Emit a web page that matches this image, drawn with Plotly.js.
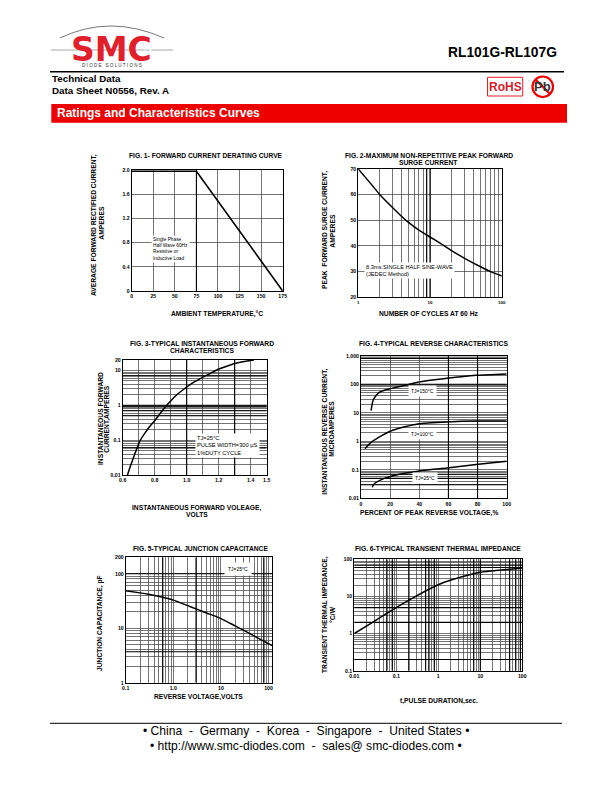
<!DOCTYPE html>
<html>
<head>
<meta charset="utf-8">
<script src="https://cdn.plot.ly/plotly-3.0.1.min.js"></script>
<style>html,body{margin:0;padding:0;background:#fff}#chart{width:612px;height:792px}</style>
</head>
<body>
<div id="chart"></div>
<script>
// ---------- data ----------
const fig1Temp = [0, 75, 175];
const fig1Current = [1.98, 1.98, 0];
const fig2Cycles = [1, 1.5, 2, 3, 4, 5, 7, 10, 14, 20, 30, 50, 70, 100];
const fig2Surge = [70, 64.2, 60, 55, 51.6, 49.2, 46.2, 43.5, 41, 38.2, 35.3, 32, 30, 28.3];
const fig3Volts = [0.63, 0.65, 0.67, 0.69, 0.71, 0.74, 0.77, 0.8, 0.84, 0.885, 0.93, 0.99, 1.04, 1.094, 1.14, 1.194, 1.25, 1.3, 1.36, 1.42];
const fig3Amps = [0.01, 0.019, 0.034, 0.06, 0.1, 0.162, 0.25, 0.363, 0.63, 1.12, 1.86, 3.09, 4.47, 6.17, 7.9, 10.7, 13.2, 15.8, 18.2, 20];
const fig4Pct150 = [6.9, 8.5, 11.9, 17.6, 32.5, 39, 59, 79, 100];
const fig4Cur150 = [11.9, 29, 49, 65, 97, 117, 161, 205, 230];
const fig4Pct100 = [2.7, 7.3, 14.2, 20, 30, 39, 59, 79, 100];
const fig4Cur100 = [0.55, 0.95, 1.58, 2.24, 3.2, 4.05, 4.76, 5.16, 5.16];
const fig4Pct25 = [7.8, 8.5, 14, 25.6, 39, 59, 79, 100];
const fig4Cur25 = [0.0244, 0.03, 0.045, 0.068, 0.089, 0.116, 0.152, 0.2];
const fig5Volts = [0.1, 0.2, 0.3, 0.6, 1, 2, 3, 5, 10, 20, 31, 60, 120];
const fig5Cap = [48.6, 44.5, 42, 37, 32.8, 26, 22.6, 19, 15, 11, 9, 6.6, 4.8];
const fig6Time = [0.01, 0.031, 0.08, 0.2, 1, 2.1, 10, 32, 100];
const fig6Imp = [1, 2.2, 4.3, 8, 20.7, 28, 44.6, 51.6, 58];

// ---------- tick labels ----------
const fig1XTicks = [0, 25, 50, 75, 100, 125, 150, 175];
const fig1YTicks = [0, 0.4, 0.8, 1.2, 1.6, 2.0];
const fig1YLabels = ['0', '0.4', '0.8', '1.2', '1.6', '2.0'];
const fig2XLabels = {1: '1', 10: '10', 100: '100'};
const fig2YTicks = [20, 30, 40, 50, 60, 70];
const fig3XTicks = [0.6, 0.7, 0.8, 0.9, 1.0, 1.1, 1.2, 1.3, 1.4, 1.5];
const fig3XLabels = ['0.6', '', '0.8', '', '1.0', '', '1.2', '', '1.4', '1.5'];
const fig3YLabels = {0.01: '0.01', 0.1: '0.1', 1: '1', 10: '10', 20: '20'};
const fig4XTicks = [0, 20, 40, 60, 80, 100];
const fig4YLabels = {0.01: '0.01', 0.1: '0.1', 1: '1', 10: '10', 100: '100', 1000: '1,000'};
const fig5XLabels = {0.1: '0.1', 1: '1.0', 10: '10', 100: '100'};
const fig5YLabels = {1: '1', 10: '10', 100: '100', 200: '200'};
const fig6XLabels = {0.01: '0.01', 0.1: '0.1', 1: '1', 10: '10', 100: '100'};
const fig6YLabels = {0.1: '0.1', 1: '1', 10: '10', 100: '100'};

// ---------- heavier printed grid lines ----------
const fig1HeavyX = [75];
const fig2HeavyX = [9, 10];
const fig3HeavyX = [1.0, 1.3];
const fig3HeavyY = [7, 1, 0.9, 0.7, 0.5, 0.06];
const fig4HeavyX = [60, 80];
const fig4HeavyY = [1000, 800, 100, 0.07, 0.05, 0.03];
const fig5HeavyX = [0.6, 3, 80];
const fig5HeavyY = [100, 3.7];
const fig6HeavyX = [0.06, 0.08, 0.2, 0.5, 0.6, 0.8, 7, 10, 50, 70, 90];
const fig6HeavyY = [70, 60, 5, 2, 0.2];

// ---------- helpers ----------
const FONT = 'Liberation Sans, Arial, sans-serif';
const W = 612, H = 792;
const px = x => x / W, py = y => 1 - y / H;

function logGrid(lo, hi) {
  const out = [];
  for (let e = Math.floor(Math.log10(lo) - 1e-9); e <= Math.ceil(Math.log10(hi)); e++) {
    for (let m = 1; m <= 9; m++) {
      const v = +(m + 'e' + e);
      if (v >= lo * 0.999 && v <= hi * 1.001) out.push(v);
    }
  }
  return out;
}

const annotations = [];
function note(text, x, y, o) {
  o = o || {};
  annotations.push({
    text, xref: 'paper', yref: 'paper', x: px(x), y: py(y), showarrow: false,
    xanchor: o.xa || 'center', yanchor: 'middle', align: o.align || 'center',
    textangle: o.angle || 0, bgcolor: o.bg || 'rgba(0,0,0,0)', borderpad: o.pad || 0,
    font: {family: o.family || FONT, size: o.size || 6.7, color: o.color || '#000',
           weight: o.bold === false ? 'normal' : 'bold'}
  });
}

const layout = {
  width: W, height: H, margin: {l: 0, r: 0, t: 0, b: 0}, showlegend: false,
  paper_bgcolor: '#fff', plot_bgcolor: '#fff', annotations, shapes: []
};
const traces = [];

function axis(n, letter, dom, spec) {
  const key = (letter === 'x' ? 'xaxis' : 'yaxis') + (n === 1 ? '' : n);
  layout[key] = {
    domain: dom, type: spec.type || 'linear', range: spec.range, autorange: false,
    anchor: (letter === 'x' ? 'y' : 'x') + (n === 1 ? '' : n),
    tickmode: 'array', tickvals: spec.vals, ticktext: spec.text, ticks: '', ticklen: 0,
    showgrid: true, gridcolor: '#3a3a3a', gridwidth: 0.7, zeroline: false,
    showline: true, mirror: true, linecolor: '#000', linewidth: 1, layer: 'below traces',
    tickangle: 0, tickfont: {family: FONT, size: spec.size || 5.2, color: '#000', weight: 'bold'}
  };
}

function panel(n, box, xs, ys) {
  axis(n, 'x', [px(box[0]), px(box[1])], xs);
  axis(n, 'y', [py(box[3]), py(box[2])], ys);
}

function line(n, x, y, width, color) {
  traces.push({
    type: 'scatter', mode: 'lines', x, y, xaxis: 'x' + (n === 1 ? '' : n), yaxis: 'y' + (n === 1 ? '' : n),
    line: {color: color || '#000', width: width || 1.5, shape: 'spline', smoothing: 0.6}, hoverinfo: 'skip'
  });
}
function straight(n, x, y, width) {
  traces.push({
    type: 'scatter', mode: 'lines', x, y, xaxis: 'x' + (n === 1 ? '' : n), yaxis: 'y' + (n === 1 ? '' : n),
    line: {color: '#000', width: width || 1.1}, hoverinfo: 'skip'
  });
}
function heavy(n, xv, yv, xr, yr) {
  (xv || []).forEach(v => straight(n, [v, v], yr));
  (yv || []).forEach(v => straight(n, xr, [v, v]));
}
const labelled = (vals, map) => vals.map(v => (map[v] !== undefined ? map[v] : ''));

// Fig 1
panel(1, [131.7, 282.7, 170, 291],
  {range: [0, 175], vals: fig1XTicks, text: fig1XTicks.map(String)},
  {range: [0, 2.0], vals: fig1YTicks, text: fig1YLabels});
heavy(1, fig1HeavyX, null, [0, 175], [0, 2.0]);
straight(1, fig1Temp, fig1Current, 1.6);

// Fig 2
const g2x = logGrid(1, 100);
panel(2, [358.3, 501.7, 169, 297.3],
  {type: 'log', range: [0, 2], vals: g2x, text: labelled(g2x, fig2XLabels), size: 4.4},
  {range: [20, 70], vals: fig2YTicks, text: fig2YTicks.map(String)});
heavy(2, fig2HeavyX, null, [1, 100], [20, 70]);
line(2, fig2Cycles, fig2Surge);

// Fig 3
const g3y = logGrid(0.01, 20);
panel(3, [122.7, 266.7, 360, 475],
  {range: [0.6, 1.5], vals: fig3XTicks, text: fig3XLabels},
  {type: 'log', range: [-2, Math.log10(20)], vals: g3y, text: labelled(g3y, fig3YLabels)});
heavy(3, fig3HeavyX, fig3HeavyY, [0.6, 1.5], [0.01, 20]);
line(3, fig3Volts, fig3Amps);

// Fig 4
const g4y = logGrid(0.01, 1000);
panel(4, [361, 506.7, 355.7, 498.3],
  {range: [0, 100], vals: fig4XTicks, text: fig4XTicks.map(String)},
  {type: 'log', range: [-2, 3], vals: g4y, text: labelled(g4y, fig4YLabels)});
heavy(4, fig4HeavyX, fig4HeavyY, [0, 100], [0.01, 1000]);
line(4, fig4Pct150, fig4Cur150);
line(4, fig4Pct100, fig4Cur100);
line(4, fig4Pct25, fig4Cur25);

// Fig 5
const g5x = logGrid(0.1, 120), g5y = logGrid(1, 200);
panel(5, [125.7, 272.3, 557.3, 682.7],
  {type: 'log', range: [-1, Math.log10(120)], vals: g5x, text: labelled(g5x, fig5XLabels)},
  {type: 'log', range: [0, Math.log10(200)], vals: g5y, text: labelled(g5y, fig5YLabels)});
heavy(5, fig5HeavyX, fig5HeavyY, [0.1, 120], [1, 200]);
line(5, fig5Volts, fig5Cap);

// Fig 6
const g6x = logGrid(0.01, 100), g6y = logGrid(0.1, 100);
panel(6, [354.3, 522.3, 559.3, 670.7],
  {type: 'log', range: [-2, 2], vals: g6x, text: labelled(g6x, fig6XLabels)},
  {type: 'log', range: [-1, 2], vals: g6y, text: labelled(g6y, fig6YLabels)});
heavy(6, fig6HeavyX, fig6HeavyY, [0.01, 100], [0.1, 100]);
line(6, fig6Time, fig6Imp);

// Figure titles
note('FIG. 1- FORWARD CURRENT DERATING CURVE', 206, 155);
note('FIG. 2-MAXIMUM NON-REPETITIVE PEAK FORWARD', 428.5, 155);
note('SURGE CURRENT', 428.5, 162);
note('FIG. 3-TYPICAL INSTANTANEOUS FORWARD', 201.7, 343.3);
note('CHARACTERISTICS', 201.7, 350);
note('FIG. 4-TYPICAL REVERSE CHARACTERISTICS', 433.5, 343.3);
note('FIG. 5-TYPICAL JUNCTION CAPACITANCE', 200, 548);
note('FIG. 6-TYPICAL TRANSIENT THERMAL IMPEDANCE', 437.7, 548.7);

// X axis titles
note('AMBIENT TEMPERATURE,\u00B0C', 216.5, 314);
note('NUMBER OF CYCLES AT 60 Hz', 428.3, 314);
note('INSTANTANEOUS FORWARD VOLEAGE,', 196.7, 508.3);
note('VOLTS', 196.7, 514.8);
note('PERCENT OF PEAK REVERSE VOLTAGE,%', 429.3, 513);
note('REVERSE VOLTAGE,VOLTS', 198.3, 697.3);
note('t,PULSE DURATION,sec.', 439, 700.7);

// Y axis titles
const vert = {angle: -90};
note('AVERAGE FORWARD RECTIFIED CURRENT,', 94, 225, vert);
note('AMPERES', 100.7, 223, vert);
note('PEAK  FORWARD SURGE CURRENT,', 325, 230, vert);
note('AMPERES', 331.7, 231, vert);
note('INSTANTANEOUS FORWARD', 100, 419, vert);
note('CURRENT,AMPERES', 106.7, 419, vert);
note('INSTANTANEOUS REVERSE CURRENT,', 325, 431.7, vert);
note('MICROAMPERES', 331.7, 429, vert);
note('JUNCTION CAPACITANCE, pF', 100, 623, vert);
note('TRANSIENT THERMAL IMPEDANCE,', 325, 615, vert);
note('\u00B0C/W', 331.7, 615, vert);

// Notes inside the panels
const inner = {size: 4.8, bold: false, bg: '#fff', pad: 1};
note('Single Phase<br>Half Wave 60Hz<br>Resistive or<br>Inductive Load', 150.5, 248.5, Object.assign({xa: 'left', align: 'left'}, inner));
note('8.3ms SINGLE HALF SINE-WAVE<br>(JEDEC Method)', 363.5, 271, Object.assign({}, inner, {xa: 'left', align: 'left', size: 5.7}));
note('TJ=25\u00B0C<br>PULSE WIDTH=300 \u03BCS<br>1%DUTY CYCLE', 195, 445, Object.assign({}, inner, {xa: 'left', align: 'left', size: 5.7}));
note('TJ=150\u00B0C', 422.5, 391, Object.assign({}, inner, {size: 5, pad: 2}));
note('TJ=100\u00B0C', 422.5, 433.5, Object.assign({}, inner, {size: 5, pad: 2}));
note('TJ=25\u00B0C', 424.5, 478.5, Object.assign({}, inner, {size: 5, pad: 2}));
note('TJ=25\u00B0C', 237.5, 568.5, Object.assign({}, inner, {size: 5, pad: 3}));

// Page header
const s = (type, x0, y0, x1, y1, o) => layout.shapes.push(Object.assign(
  {type, xref: 'paper', yref: 'paper', x0: px(x0), y0: py(y0), x1: px(x1), y1: py(y1), layer: 'above'}, o));
layout.shapes.push({type: 'path', xref: 'paper', yref: 'paper', layer: 'above',
  path: `M ${px(60)} ${py(38)} Q ${px(110)} ${py(14)} ${px(164)} ${py(38)}`, line: {color: '#555', width: 0.8}});
s('line', 51, 50, 173, 50, {line: {color: '#aaa', width: 1}});
note('SMC', 111.5, 49.5, {size: 33, color: '#e2202c', family: 'DejaVu Sans, sans-serif'});
note('D I O D E   S O L U T I O N S', 112, 65, {size: 4.6, bold: false, color: '#333'});
layout.shapes.push({type: 'path', xref: 'paper', yref: 'paper', layer: 'above',
  path: `M ${px(145)} ${py(46)} L ${px(145)} ${py(54)} L ${px(151)} ${py(50)} Z`, line: {color: '#fff', width: 0.8}});
s('line', 151, 46, 151, 54, {line: {color: '#fff', width: 0.8}});
note('RL101G-RL107G', 558, 52.3, {size: 13.8, xa: 'right'});
s('line', 50, 71.7, 564, 71.7, {line: {color: '#000', width: 1.6}});
note('Technical Data', 51, 78.5, {size: 9.8, xa: 'left'});
note('Data Sheet N0556, Rev. A', 51, 90, {size: 9.8, xa: 'left'});
s('rect', 487.5, 77.3, 522.7, 96, {line: {color: '#e8202a', width: 1}, fillcolor: '#fff'});
note('RoHS', 505, 86.7, {size: 12, color: '#d8202a'});
note('Pb', 542.7, 86.7, {size: 13, color: '#333'});
s('circle', 532.5, 76.5, 553, 97, {line: {color: '#ee0000', width: 2.2}, fillcolor: 'rgba(0,0,0,0)'});
s('line', 535.5, 79.5, 550, 94, {line: {color: '#ee0000', width: 2.2}});
s('rect', 51.3, 104, 567, 122.7, {line: {width: 0}, fillcolor: '#ee0000', layer: 'below'});
note('Ratings and Characteristics Curves', 56, 113, {size: 12, color: '#fff', xa: 'left'});

// Page footer
s('line', 50, 723.3, 562, 723.3, {line: {color: '#000', width: 1}});
const sp = '\u00A0\u00A0-\u00A0\u00A0';
note('\u2022 China' + sp + 'Germany' + sp + 'Korea' + sp + 'Singapore' + sp + 'United States \u2022', 305.5, 731, {size: 12.1, bold: false});
note('\u2022 http://www.smc-diodes.com' + sp + 'sales@ smc-diodes.com \u2022', 306, 746, {size: 12.1, bold: false});

Plotly.newPlot('chart', traces, layout, {staticPlot: true, displayModeBar: false});
</script>
</body>
</html>
